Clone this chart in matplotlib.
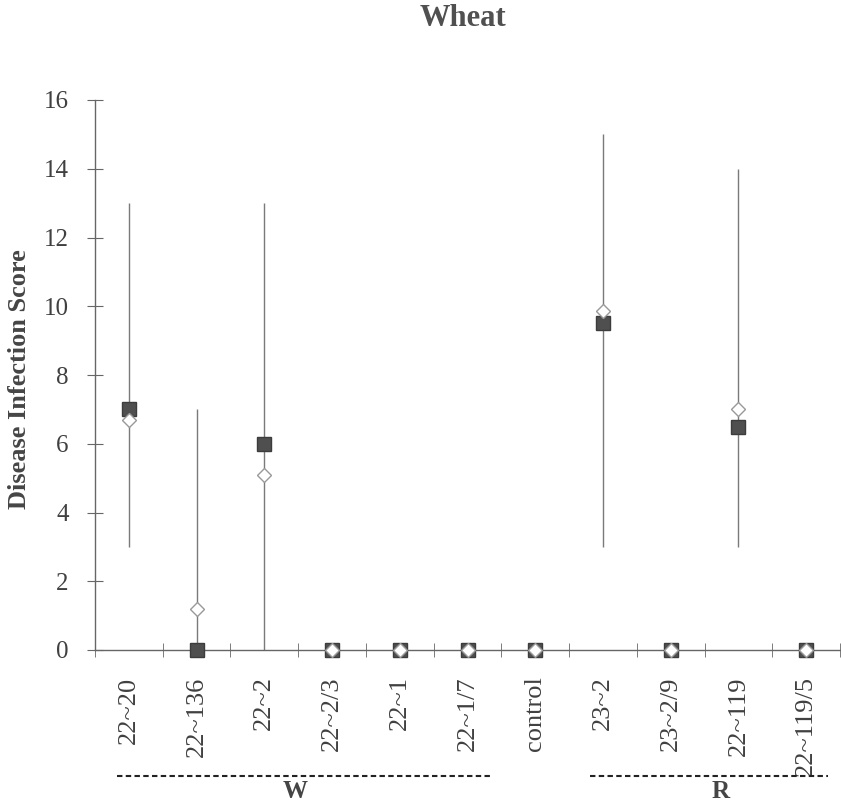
import matplotlib
matplotlib.use("Agg")
import matplotlib.pyplot as plt
import numpy as np

categories = ["22~20", "22~136", "22~2", "22~2/3", "22~1", "22~1/7", "control",
              "23~2", "23~2/9", "22~119", "22~119/5"]
range_low = [3, 0, 0, 0, 0, 0, 0, 3, 0, 3, 0]
range_high = [13, 7, 13, 0, 0, 0, 0, 15, 0, 14, 0]
square_vals = [7.0, 0.0, 6.0, 0, 0, 0, 0, 9.5, 0, 6.5, 0]
diamond_vals = [6.7, 1.2, 5.1, 0, 0, 0, 0, 9.85, 0, 7.0, 0]
yticks = [0, 2, 4, 6, 8, 10, 12, 14, 16]
group_names = ["W", "R"]
group_spans = [(-0.18, 5.33), (6.81, 10.32)]
group_label_x = [2.45, 8.74]

plt.rcParams['font.family'] = ['Liberation Serif', 'DejaVu Serif']

fig = plt.figure(figsize=(8.41, 8.09), dpi=100)
ax = fig.add_axes([95/841, 159/809, 745/841, 550/809])

x = np.arange(len(categories))
ax.vlines(x, range_low, range_high, color="#7a7a7a", lw=1.0, zorder=1)
ax.plot(x, square_vals, ls="none", marker="s", ms=10, mfc="#4f4f4f",
        mec="#3c3c3c", mew=1, zorder=3, clip_on=False)
ax.plot(x, diamond_vals, ls="none", marker="D", ms=7.5, mfc="white",
        mec="#999999", mew=1, zorder=4, clip_on=False)

ax.set_xlim(-0.5, len(categories) - 0.5)
ax.set_ylim(0, 16)
ax.set_yticks(yticks)
ax.set_yticklabels([str(v) for v in yticks], fontsize=18, color="#404040")
ax.set_xticks(x)
ax.set_xticklabels(categories, rotation=90, fontsize=19, color="#404040")
ax.set_xticks(np.arange(len(categories) + 1) - 0.5, minor=True)
ax.tick_params(axis="x", which="major", length=0, pad=19)
ax.tick_params(axis="x", which="minor", direction="inout", length=10,
               color="#666666")
ax.tick_params(axis="y", direction="inout", length=12, color="#666666", pad=13)

for s in ["top", "right"]:
    ax.spines[s].set_visible(False)
for s in ["left", "bottom"]:
    ax.spines[s].set_color("#666666")
    ax.spines[s].set_linewidth(1.0)

ax.set_ylabel("Disease Infection Score", fontsize=19, fontweight="bold",
              color="#454545", va="center")
ax.yaxis.set_label_coords((20 - 95) / 745, (650 - 379) / 550)

trans = ax.get_xaxis_transform()
for name, (x0, x1), lx in zip(group_names, group_spans, group_label_x):
    ax.plot([x0, x1], [-0.229, -0.229], transform=trans, clip_on=False,
            color="#222222", lw=1.5, ls=(0, (2.6, 1.6)))
    ax.text(lx, -0.257, name, transform=trans, ha="center",
            va="center", fontsize=18, fontweight="bold", color="#454545")

fig.text(463/841, 1 - 19/809, "Wheat", ha="center", va="center",
         fontsize=22, fontweight="bold", color="#505050")

fig.savefig("out.png", dpi=100)
